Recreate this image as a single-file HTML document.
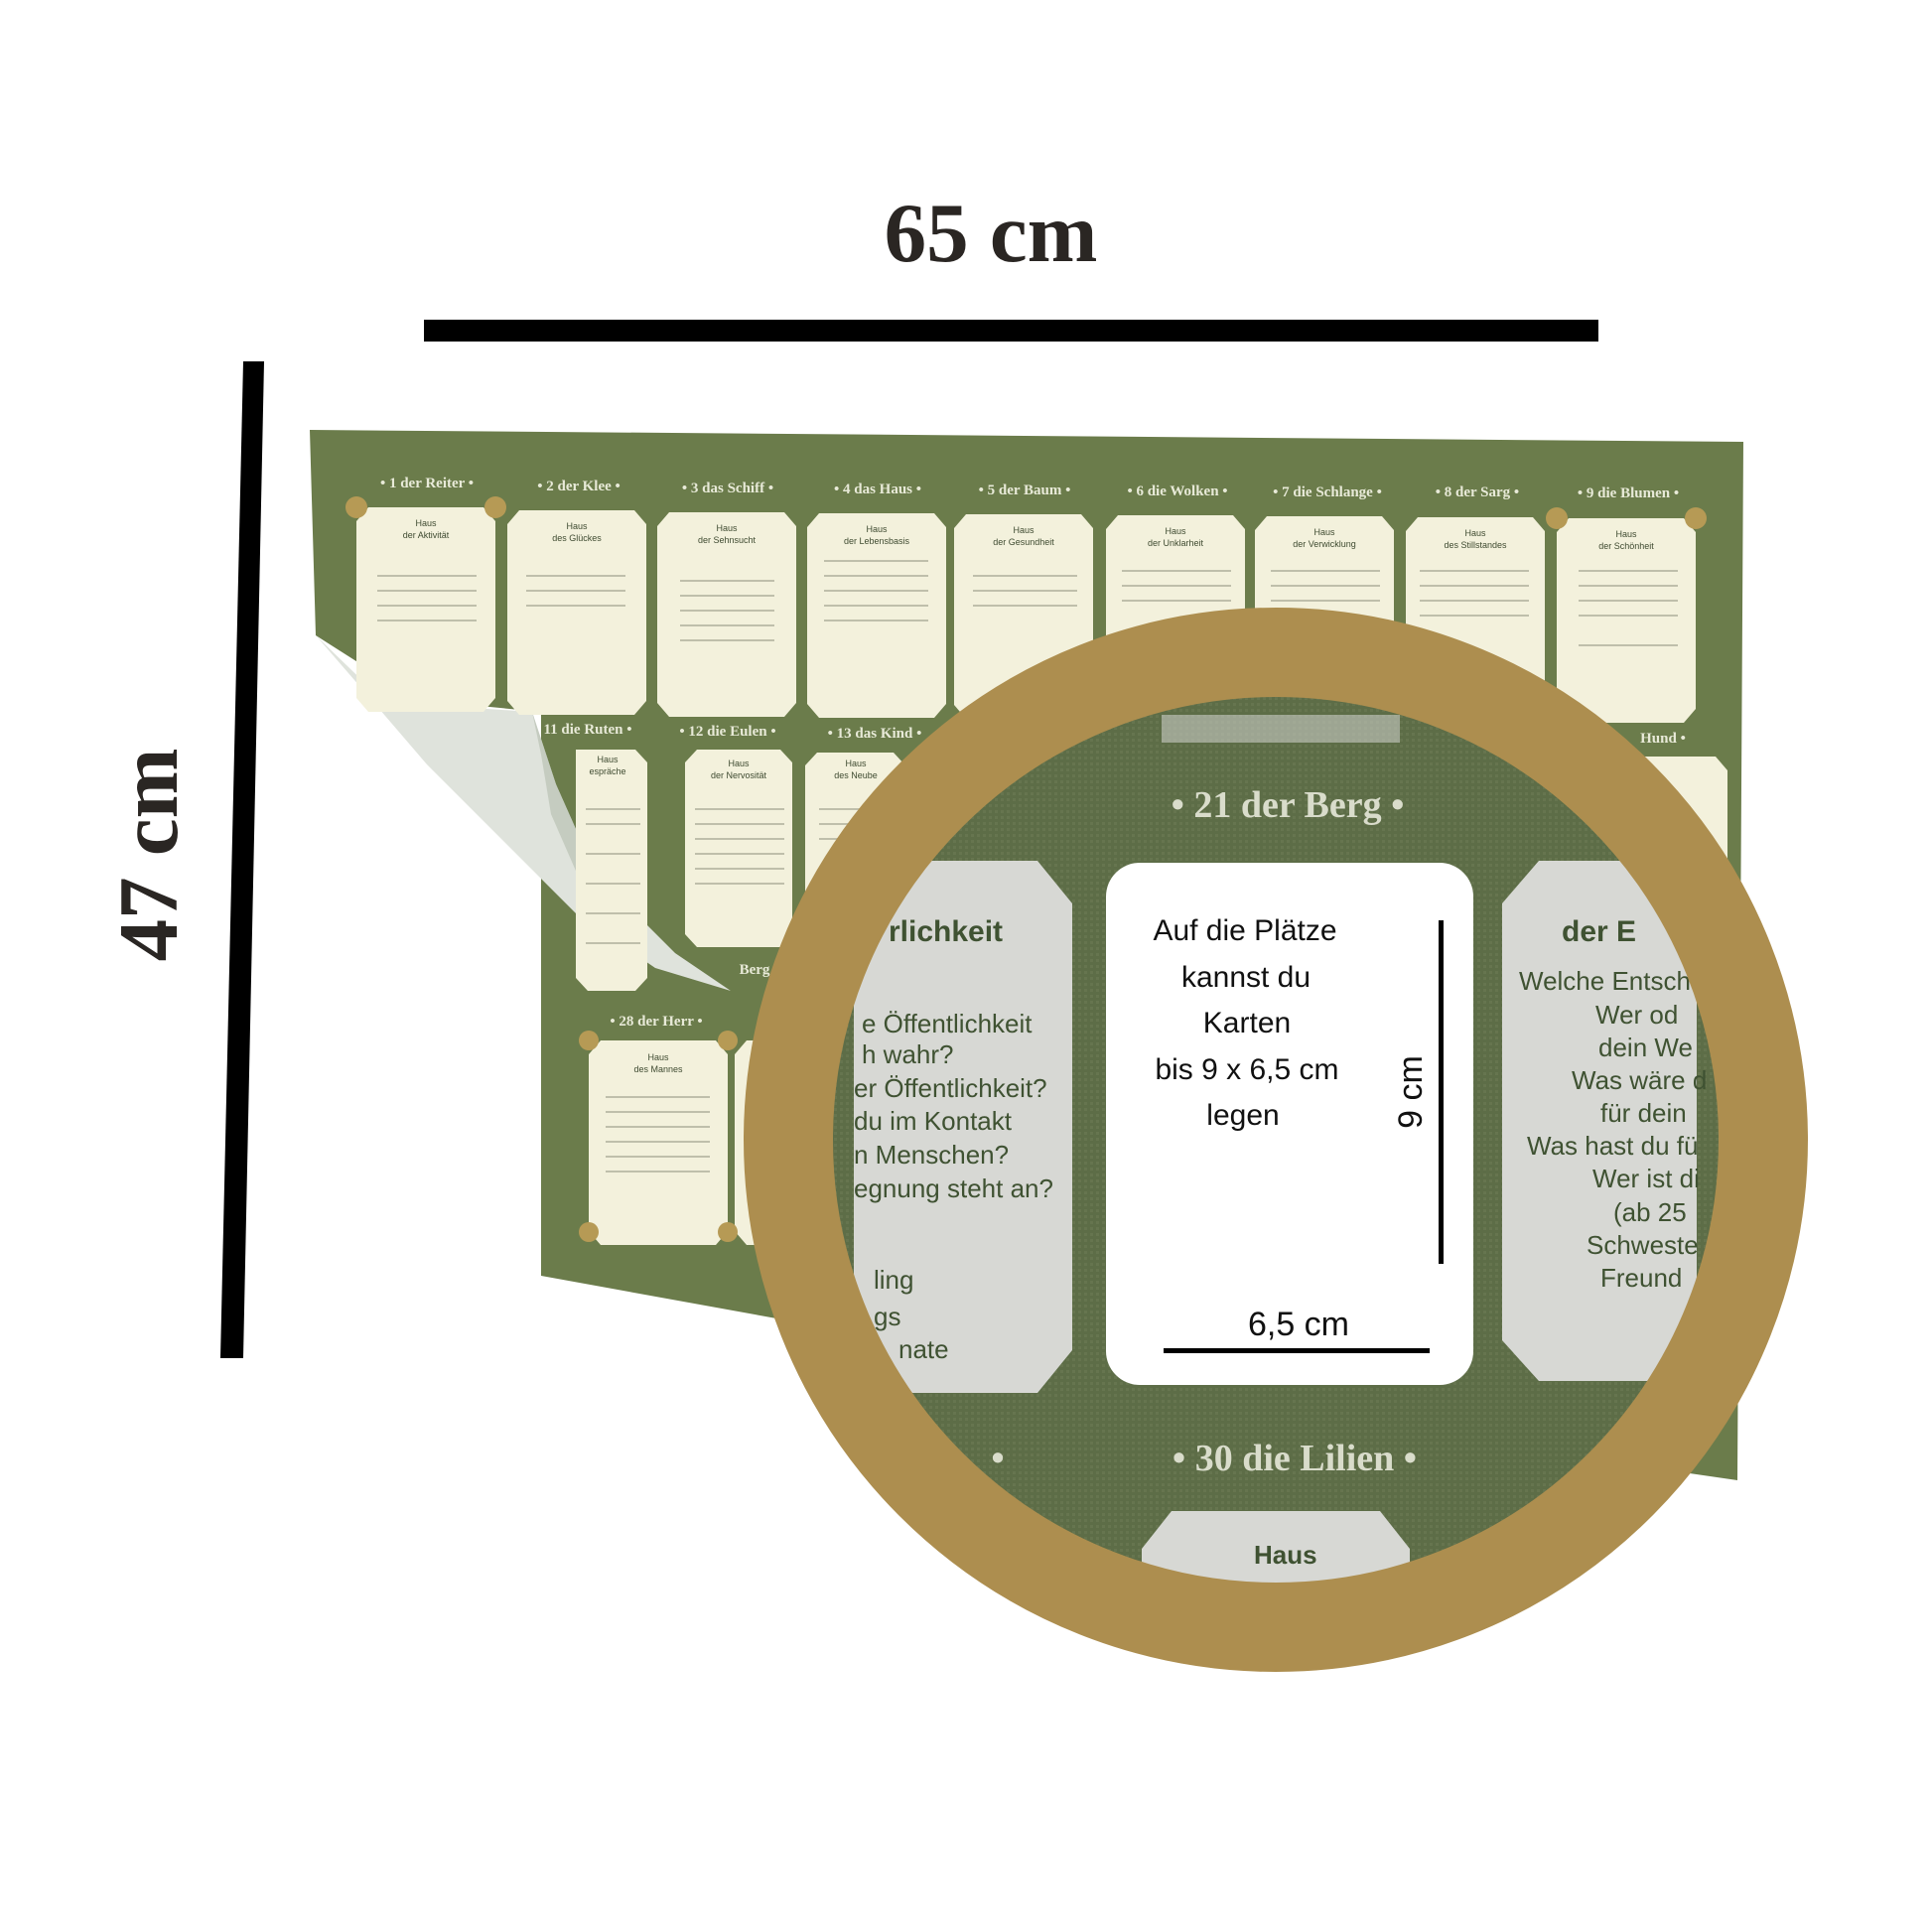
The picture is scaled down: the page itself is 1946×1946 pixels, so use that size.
<!DOCTYPE html>
<html><head><meta charset="utf-8"><style>
html,body{margin:0;padding:0;background:#fff;}
svg{display:block}
</style></head><body>
<svg width="1946" height="1946" viewBox="0 0 1946 1946" xmlns="http://www.w3.org/2000/svg">
<defs>
<clipPath id="circ"><circle cx="1285" cy="1148" r="450"/></clipPath>
<pattern id="tex" width="6" height="6" patternUnits="userSpaceOnUse">
<rect width="6" height="6" fill="#5d6d47"/><rect width="3" height="3" fill="#66754f"/>
</pattern>
<g id="card">
<path d="M12 0 H128 L140 14 V192 L128 206 H12 L0 192 V14 Z" fill="#f3f1dc"/>
</g>
</defs>
<rect width="1946" height="1946" fill="#fff"/>

<text x="998" y="263" font-family="Liberation Serif, serif" font-weight="bold" font-size="85" fill="#2a2623" text-anchor="middle">65 cm</text>
<rect x="427" y="322" width="1183" height="22" fill="#000"/>
<polygon points="245,364 266,364 245,1368 222,1368" fill="#000"/>
<text transform="translate(178,861) rotate(-90)" font-family="Liberation Serif, serif" font-weight="bold" font-size="85" fill="#2a2623" text-anchor="middle">47 cm</text>

<!-- mat -->
<polygon points="312,433 1756,445 1750,1491 1400,1440 545,1285 545,717 420,705 318,640" fill="#6b7c4b"/>
<!-- peel flap -->
<polygon points="318,640 380,700 460,712 536,717 560,790 600,880 680,960 736,998 660,975 580,920 500,840 430,770 370,700" fill="#dfe3dc"/>
<polygon points="536,717 560,790 600,880 640,940 590,900 555,820 545,760" fill="#c5ccc0"/>

<g font-family="Liberation Serif, serif" font-weight="bold" font-size="15" fill="#e8ead8" text-anchor="middle">
<text x="430" y="491">• 1 der Reiter •</text>
<text x="583" y="494">• 2 der Klee •</text>
<text x="733" y="496">• 3 das Schiff •</text>
<text x="884" y="497">• 4 das Haus •</text>
<text x="1032" y="498">• 5 der Baum •</text>
<text x="1186" y="499">• 6 die Wolken •</text>
<text x="1337" y="500">• 7 die Schlange •</text>
<text x="1488" y="500">• 8 der Sarg •</text>
<text x="1640" y="501">• 9 die Blumen •</text>
<text x="592" y="739">11 die Ruten •</text>
<text x="733" y="741">• 12 die Eulen •</text>
<text x="881" y="743">• 13 das Kind •</text>
<text x="1460" y="746">• 17 die</text>
<text x="1675" y="748">Hund •</text>
<text x="661" y="1033">• 28 der Herr •</text>
<text x="760" y="981">Berg</text>
</g>

<g>
<use href="#card" x="359" y="511"/>
<use href="#card" x="511" y="514"/>
<use href="#card" x="662" y="516"/>
<use href="#card" x="813" y="517"/>
<use href="#card" x="961" y="518"/>
<use href="#card" x="1114" y="519"/>
<use href="#card" x="1264" y="520"/>
<use href="#card" x="1416" y="521"/>
<use href="#card" x="1568" y="522"/>
<path d="M580 755 H640 L652 768 V985 L640 998 H592 L580 985 Z" fill="#f3f1dc"/>
<path d="M702 755 H786 L798 768 V941 L786 954 H702 L690 941 V768 Z" fill="#f3f1dc"/>
<path d="M823 758 H900 L912 771 V941 L900 954 H823 L811 941 V771 Z" fill="#f3f1dc"/>
<use href="#card" x="1600" y="762"/>
<use href="#card" x="593" y="1048"/>
<use href="#card" x="740" y="1048"/>
</g>
<g fill="#b69a55">
<circle cx="359" cy="511" r="11"/><circle cx="499" cy="511" r="11"/>
<circle cx="1568" cy="522" r="11"/><circle cx="1708" cy="522" r="11"/>
<circle cx="593" cy="1048" r="10"/><circle cx="733" cy="1048" r="10"/>
<circle cx="593" cy="1241" r="10"/><circle cx="733" cy="1241" r="10"/>
</g>
<g font-family="Liberation Sans, sans-serif" font-size="9" fill="#3e4a30" text-anchor="middle">
<text x="429" y="530">Haus</text><text x="429" y="542">der Aktivität</text>
<text x="581" y="533">Haus</text><text x="581" y="545">des Glückes</text>
<text x="732" y="535">Haus</text><text x="732" y="547">der Sehnsucht</text>
<text x="883" y="536">Haus</text><text x="883" y="548">der Lebensbasis</text>
<text x="1031" y="537">Haus</text><text x="1031" y="549">der Gesundheit</text>
<text x="1184" y="538">Haus</text><text x="1184" y="550">der Unklarheit</text>
<text x="1334" y="539">Haus</text><text x="1334" y="551">der Verwicklung</text>
<text x="1486" y="540">Haus</text><text x="1486" y="552">des Stillstandes</text>
<text x="1638" y="541">Haus</text><text x="1638" y="553">der Schönheit</text>
<text x="744" y="772">Haus</text><text x="744" y="784">der Nervosität</text>
<text x="612" y="768">Haus</text><text x="612" y="780">espräche</text>
<text x="862" y="772">Haus</text><text x="862" y="784">des Neube</text>
<text x="663" y="1068">Haus</text><text x="663" y="1080">des Mannes</text>
</g>
<g stroke="#8c8f7c" stroke-width="2" opacity="0.5">
<line x1="380" y1="580" x2="480" y2="580"/><line x1="380" y1="595" x2="480" y2="595"/><line x1="380" y1="610" x2="480" y2="610"/><line x1="380" y1="625" x2="480" y2="625"/>
<line x1="530" y1="580" x2="630" y2="580"/><line x1="530" y1="595" x2="630" y2="595"/><line x1="530" y1="610" x2="630" y2="610"/>
<line x1="685" y1="585" x2="780" y2="585"/><line x1="685" y1="600" x2="780" y2="600"/><line x1="685" y1="615" x2="780" y2="615"/><line x1="685" y1="630" x2="780" y2="630"/><line x1="685" y1="645" x2="780" y2="645"/>
<line x1="830" y1="565" x2="935" y2="565"/><line x1="830" y1="580" x2="935" y2="580"/><line x1="830" y1="595" x2="935" y2="595"/><line x1="830" y1="610" x2="935" y2="610"/><line x1="830" y1="625" x2="935" y2="625"/>
<line x1="980" y1="580" x2="1085" y2="580"/><line x1="980" y1="595" x2="1085" y2="595"/><line x1="980" y1="610" x2="1085" y2="610"/>
<line x1="1130" y1="575" x2="1240" y2="575"/><line x1="1130" y1="590" x2="1240" y2="590"/><line x1="1130" y1="605" x2="1240" y2="605"/>
<line x1="1280" y1="575" x2="1390" y2="575"/><line x1="1280" y1="590" x2="1390" y2="590"/><line x1="1280" y1="605" x2="1390" y2="605"/>
<line x1="1430" y1="575" x2="1540" y2="575"/><line x1="1430" y1="590" x2="1540" y2="590"/><line x1="1430" y1="605" x2="1540" y2="605"/><line x1="1430" y1="620" x2="1540" y2="620"/>
<line x1="1590" y1="575" x2="1690" y2="575"/><line x1="1590" y1="590" x2="1690" y2="590"/><line x1="1590" y1="605" x2="1690" y2="605"/><line x1="1590" y1="620" x2="1690" y2="620"/><line x1="1590" y1="650" x2="1690" y2="650"/>
<line x1="700" y1="815" x2="790" y2="815"/><line x1="700" y1="830" x2="790" y2="830"/><line x1="700" y1="845" x2="790" y2="845"/><line x1="700" y1="860" x2="790" y2="860"/><line x1="700" y1="875" x2="790" y2="875"/><line x1="700" y1="890" x2="790" y2="890"/>
<line x1="590" y1="815" x2="645" y2="815"/><line x1="590" y1="830" x2="645" y2="830"/><line x1="590" y1="860" x2="645" y2="860"/><line x1="590" y1="890" x2="645" y2="890"/><line x1="590" y1="920" x2="645" y2="920"/><line x1="590" y1="950" x2="645" y2="950"/>
<line x1="825" y1="815" x2="900" y2="815"/><line x1="825" y1="830" x2="900" y2="830"/><line x1="825" y1="845" x2="900" y2="845"/>
<line x1="610" y1="1105" x2="715" y2="1105"/><line x1="610" y1="1120" x2="715" y2="1120"/><line x1="610" y1="1135" x2="715" y2="1135"/><line x1="610" y1="1150" x2="715" y2="1150"/><line x1="610" y1="1165" x2="715" y2="1165"/><line x1="610" y1="1180" x2="715" y2="1180"/>
</g>

<g clip-path="url(#circ)">
<rect x="800" y="650" width="1000" height="1000" fill="url(#tex)"/>
<rect x="1170" y="720" width="240" height="28" fill="#c8cbc4" opacity="0.6"/>
<path d="M895 867 H1045 L1080 910 V1360 L1045 1403 H895 L860 1360 V910 Z" fill="#d7d8d4"/>
<path d="M1550 867 H1709 V1391 H1550 L1513 1350 V910 Z" fill="#d7d8d4"/>
<path d="M1180 1522 H1390 L1420 1560 V1650 H1150 V1560 Z" fill="#d7d8d4"/>
<g font-family="Liberation Sans, sans-serif" font-size="26" fill="#3f5232">
<text x="895" y="948" font-weight="bold" font-size="30">rlichkeit</text>
<text x="868" y="1040">e Öffentlichkeit</text>
<text x="868" y="1071">h wahr?</text>
<text x="860" y="1105">er Öffentlichkeit?</text>
<text x="860" y="1138">du im Kontakt</text>
<text x="860" y="1172">n Menschen?</text>
<text x="860" y="1206">egnung steht an?</text>
<text x="880" y="1298">ling</text>
<text x="880" y="1335">gs</text>
<text x="905" y="1368">nate</text>
<text x="1573" y="948" font-weight="bold" font-size="30">der E</text>
<text x="1530" y="997">Welche Entsch</text>
<text x="1607" y="1031">Wer od</text>
<text x="1610" y="1064">dein We</text>
<text x="1583" y="1097">Was wäre d</text>
<text x="1612" y="1130">für dein</text>
<text x="1538" y="1163">Was hast du fü</text>
<text x="1604" y="1196">Wer ist di</text>
<text x="1625" y="1230">(ab 25</text>
<text x="1598" y="1263">Schweste</text>
<text x="1612" y="1296">Freund</text>
<text x="1263" y="1575" font-weight="bold">Haus</text>
</g>
<g font-family="Liberation Serif, serif" font-weight="bold" font-size="38" fill="#d9dccb" text-anchor="middle">
<text x="1297" y="823">• 21 der Berg •</text>
<text x="1304" y="1481">• 30 die Lilien •</text>
<text x="1005" y="1481">•</text>
</g>
<rect x="1114" y="869" width="370" height="526" rx="34" fill="#fff"/>
<g font-family="Liberation Sans, sans-serif" font-size="30" fill="#111" text-anchor="middle">
<text x="1254" y="947">Auf die Plätze</text>
<text x="1255" y="994">kannst du</text>
<text x="1256" y="1040">Karten</text>
<text x="1256" y="1087">bis 9 x 6,5 cm</text>
<text x="1252" y="1133">legen</text>
<text x="1308" y="1345" font-size="34">6,5 cm</text>
<text transform="translate(1432,1100) rotate(-90)" font-size="34">9 cm</text>
</g>
<rect x="1449" y="927" width="5" height="346" fill="#000"/>
<rect x="1172" y="1358" width="268" height="5" fill="#000"/>
</g>
<circle cx="1285" cy="1148" r="491" fill="none" stroke="#ad8e4f" stroke-width="90"/>
</svg>
</body></html>
